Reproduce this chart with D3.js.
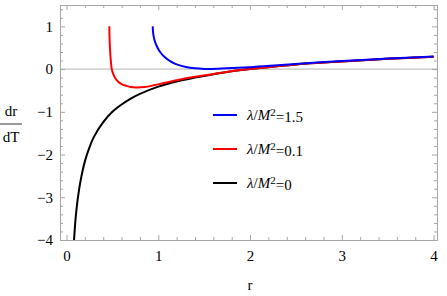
<!DOCTYPE html>
<html>
<head>
<meta charset="utf-8">
<script src="https://cdn.jsdelivr.net/npm/d3@7"></script>
<style>
  body { margin: 0; background: #fff; }
  text { font-family: "Liberation Serif", "DejaVu Serif", serif; fill: #000; }
  .frame path, .frame line { stroke: #a6a6a6; }
</style>
</head>
<body>
<div id="chart"></div>
<script>
// values
let blackR = [0.082, 0.1, 0.12, 0.15, 0.2, 0.25, 0.3, 0.4, 0.5, 0.6, 0.7, 0.8, 1.0, 1.2, 1.4, 1.6, 1.8, 2.0, 2.5, 3.0, 3.5, 4.0];
let blackV = [-4.0, -3.47, -3.08, -2.65, -2.16, -1.83, -1.58, -1.24, -1.0, -0.83, -0.69, -0.58, -0.41, -0.29, -0.2, -0.12, -0.05, 0.0, 0.11, 0.18, 0.24, 0.29];

let redR = [0.467, 0.468, 0.471, 0.476, 0.483, 0.493, 0.51, 0.53, 0.56, 0.6, 0.65, 0.7, 0.76, 0.85, 0.95, 1.05, 1.2, 1.4, 1.6, 1.8, 2.0, 2.5, 3.0, 3.5, 4.0];
let redV = [1.0, 0.8, 0.6, 0.4, 0.2, 0.0, -0.12, -0.21, -0.29, -0.35, -0.39, -0.42, -0.43, -0.42, -0.38, -0.33, -0.26, -0.18, -0.115, -0.05, 0.0, 0.11, 0.18, 0.24, 0.29];

let blueR = [0.94, 0.941, 0.944, 0.95, 0.96, 0.975, 0.995, 1.02, 1.06, 1.12, 1.2, 1.3, 1.4, 1.5, 1.65, 1.8, 2.0, 2.3, 2.65, 3.0, 3.5, 4.0];
let blueV = [1.0, 0.92, 0.84, 0.76, 0.67, 0.58, 0.49, 0.4, 0.3, 0.2, 0.11, 0.05, 0.018, 0.005, 0.01, 0.025, 0.045, 0.09, 0.145, 0.19, 0.245, 0.295];

let seriesNames = ["λ/M²=1.5", "λ/M²=0.1", "λ/M²=0"];
let seriesColors = ["#0000ff", "#ff0000", "#000000"];

let xMajor = [0, 1, 2, 3, 4];
let yMajor = [-4, -3, -2, -1, 0, 1];

let margin = {top: 5, right: 10, bottom: 56, left: 60},
    width = 447 - margin.left - margin.right,
    height = 296 - margin.top - margin.bottom;

let svg = d3.select("#chart")
    .append("svg")
    .attr("width", 447)
    .attr("height", 296);

let canvas = svg.append("g")
    .attr("transform", "translate(" + margin.left + "," + margin.top + ")");

let x = d3.scaleLinear()
    .domain([-0.071, 4.037])
    .range([0, width]);

let y = d3.scaleLinear()
    .domain([-4, 1.5])
    .range([height, 0]);

let xMinor = d3.range(0, 40.01, 2).map(function(d) { return d / 10; })
    .filter(function(d) { return xMajor.indexOf(d) < 0; });
let yMinor = d3.range(-40, 15.01, 2).map(function(d) { return d / 10; })
    .filter(function(d) { return yMajor.indexOf(d) < 0 && d <= 1.5; });

let clip = canvas.append("clipPath")
  .attr("id", "clip")
  .append("rect")
  .attr("width", width)
  .attr("height", height);

// zero line
canvas.append("line")
    .attr("x1", 0).attr("x2", width)
    .attr("y1", y(0)).attr("y2", y(0))
    .attr("stroke", "#b4b4b4")
    .attr("stroke-width", 1);

let curveLine = d3.line()
    .curve(d3.curveCatmullRom.alpha(0.5))
    .x(function(d) { return x(d[0]); })
    .y(function(d) { return y(d[1]); });

let series = [
    d3.zip(blueR, blueV),
    d3.zip(redR, redV),
    d3.zip(blackR, blackV)
];

// black first so blue/red sit on top like the reference
[2, 1, 0].forEach(function(i) {
    canvas.append("path")
        .attr("clip-path", "url(#clip)")
        .attr("d", curveLine(series[i]))
        .attr("fill", "none")
        .attr("stroke", seriesColors[i])
        .attr("stroke-width", 2);
});

// frame with ticks on every side, pointing inward
function frameAxis(axis, ticks, size, tx, ty, labels) {
    let g = canvas.append("g")
        .attr("class", "frame")
        .attr("transform", "translate(" + tx + "," + ty + ")")
        .call(axis.tickValues(ticks).tickSize(size).tickSizeOuter(0)
            .tickFormat(labels ? d3.format("d") : ""));
    g.attr("font-family", null).attr("font-size", null);
    return g;
}

frameAxis(d3.axisBottom(x), xMinor, -3, 0, height, false);
frameAxis(d3.axisBottom(x).tickPadding(10), xMajor, -5, 0, height, true);
frameAxis(d3.axisTop(x), xMinor, -3, 0, 0, false);
frameAxis(d3.axisTop(x), xMajor, -5, 0, 0, false);
frameAxis(d3.axisLeft(y), yMinor, -3, 0, 0, false);
frameAxis(d3.axisLeft(y).tickPadding(7), yMajor, -5, 0, 0, true);
frameAxis(d3.axisRight(y), yMinor, -3, width, 0, false);
frameAxis(d3.axisRight(y), yMajor, -5, width, 0, false);

canvas.selectAll(".frame text")
    .style("font-size", "15px")
    .style("font-family", "'Liberation Serif', serif");

// axis labels
svg.append("text")
    .attr("x", margin.left + x(2))
    .attr("y", 290)
    .attr("text-anchor", "middle")
    .style("font-size", "15px")
    .text("r");

svg.append("text")
    .attr("x", 11)
    .attr("y", 116)
    .attr("text-anchor", "middle")
    .style("font-size", "15px")
    .text("dr");
svg.append("line")
    .attr("x1", 0).attr("x2", 22)
    .attr("y1", 124).attr("y2", 124)
    .attr("stroke", "#000")
    .attr("stroke-width", 0.8);
svg.append("text")
    .attr("x", 11)
    .attr("y", 142)
    .attr("text-anchor", "middle")
    .style("font-size", "15px")
    .text("dT");

// legend
let legend = svg.append("g")
    .attr("transform", "translate(213,115)");

seriesNames.forEach(function(name, i) {
    let row = legend.append("g")
        .attr("transform", "translate(0," + (i * 34) + ")");
    row.append("line")
        .attr("x1", 0).attr("x2", 24)
        .attr("stroke", seriesColors[i])
        .attr("stroke-width", 2);
    let t = row.append("text")
        .attr("x", 34)
        .attr("dy", "0.35em")
        .style("font-size", "15px");
    let parts = name.split("=");
    t.append("tspan").style("font-style", "italic").text("λ");
    t.append("tspan").text("/");
    t.append("tspan").style("font-style", "italic").text("M");
    t.append("tspan").attr("dy", "-0.4em").style("font-size", "11px").text("2");
    t.append("tspan").attr("dy", "0.4em").text("=" + parts[1]);
});
</script>
</body>
</html>
